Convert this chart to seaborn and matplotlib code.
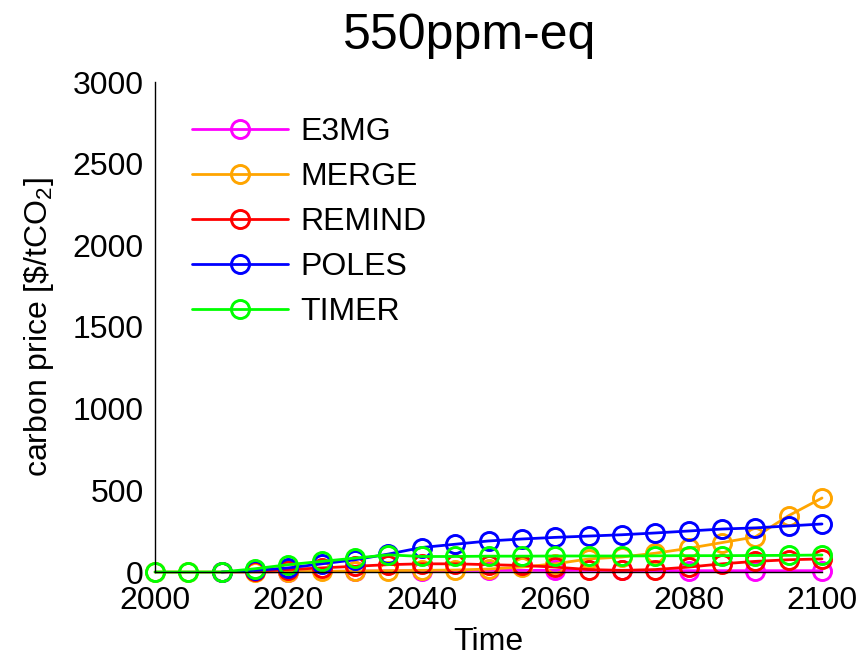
import numpy as np
import pandas as pd
import matplotlib
matplotlib.use("Agg")
import matplotlib.pyplot as plt
import seaborn as sns

years_full = [2000, 2005, 2010, 2015, 2020, 2025, 2030, 2035, 2040, 2045, 2050,
              2055, 2060, 2065, 2070, 2075, 2080, 2085, 2090, 2095, 2100]

e3mg_years = [2010, 2020, 2030, 2040, 2050, 2060, 2070, 2080, 2090, 2100]
e3mg = [0, 2, 5, 8, 10, 10, 10, 8, 8, 8]

merge_years = years_full
merge = [0, 0, 0, 0, 2, 4, 6, 8, 10, 12, 18, 30, 50, 80, 92, 115, 145, 180, 215, 345, 453]

remind_years = years_full[3:]
remind = [5, 15, 25, 35, 45, 50, 50, 45, 40, 30, 15, 10, 15, 30, 50, 65, 75, 80]

poles_years = years_full[2:]
poles = [0, 10, 25, 50, 75, 110, 150, 170, 190, 202, 212, 220, 228, 239, 251, 263, 270, 282, 294]

timer_years = years_full
timer = [0, 0, 0, 20, 45, 65, 85, 105, 95, 95, 97, 97, 98, 98, 98, 99, 100, 100, 101, 102, 104]

series_names = ["E3MG", "MERGE", "REMIND", "POLES", "TIMER"]
series_colors = ["#FF00FF", "#FFA500", "#FF0000", "#0000FF", "#00FF00"]

x_ticks = [2000, 2020, 2040, 2060, 2080, 2100]
y_ticks = [0, 500, 1000, 1500, 2000, 2500, 3000]

sns.set_style("white")
plt.rcParams["font.family"] = ["Liberation Sans", "DejaVu Sans"]
plt.rcParams["mathtext.fontset"] = "custom"
plt.rcParams["mathtext.rm"] = "Liberation Sans"
plt.rcParams["mathtext.it"] = "Liberation Sans"
plt.rcParams["text.color"] = "black"
plt.rcParams["axes.labelcolor"] = "black"
plt.rcParams["xtick.color"] = "black"
plt.rcParams["ytick.color"] = "black"

fig = plt.figure(figsize=(8.59, 6.57), dpi=100)
ax = fig.add_axes([155 / 859, 1 - 572 / 657, (822 - 155) / 859, (572 - 82) / 657])

data = [(e3mg_years, e3mg), (merge_years, merge), (remind_years, remind),
        (poles_years, poles), (timer_years, timer)]

for (xs, ys), name, col in zip(data, series_names, series_colors):
    df = pd.DataFrame({"year": xs, "price": ys})
    sns.lineplot(data=df, x="year", y="price", ax=ax, color=col, label=name,
                 marker="o", markersize=13, markerfacecolor="none",
                 markeredgecolor=col, markeredgewidth=2.1, linewidth=2.0,
                 clip_on=False)

ax.set_xlim(2000, 2100)
ax.set_ylim(0, 3000)
ax.set_xticks(x_ticks)
ax.set_yticks(y_ticks)
ax.tick_params(direction="in", length=5, width=1, labelsize=23, colors="black")
ax.tick_params(axis="x", pad=10)
ax.tick_params(axis="y", pad=8)
for s in ["top", "right"]:
    ax.spines[s].set_visible(False)
for s in ["left", "bottom"]:
    ax.spines[s].set_color("black")
    ax.spines[s].set_linewidth(1)

ax.set_xlabel("Time", fontsize=23, labelpad=8)
ax.set_ylabel(r"carbon price [\$/tCO$_2$]", fontsize=23, labelpad=12)
ax.set_title("550ppm-eq", fontsize=36, pad=24, x=(470 - 155) / 667)

leg = ax.legend(loc="upper left", bbox_to_anchor=(0.036, 0.955), frameon=False,
                fontsize=23, handlelength=3.0, handletextpad=0.4,
                labelspacing=0.47, borderaxespad=0)

fig.savefig("out.png", dpi=100)
